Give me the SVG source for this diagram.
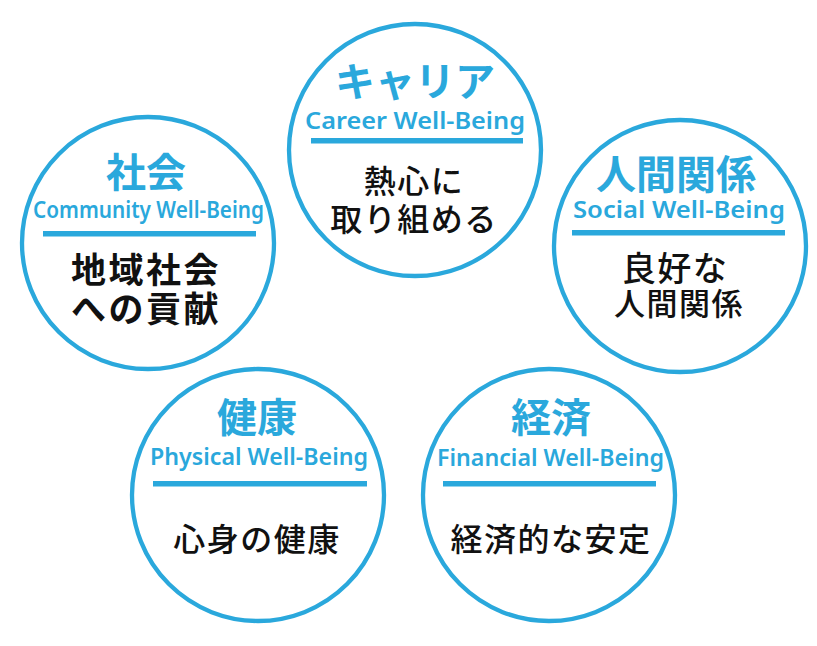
<svg xmlns="http://www.w3.org/2000/svg" width="817" height="646" viewBox="0 0 817 646">
<style>
.ring{fill:#fff;stroke:#2aa8dc;stroke-width:4.3}
.bar{fill:#2aa8dc}
.ttl{font-family:"Noto Sans CJK JP","Noto Sans CJK SC",sans-serif;font-weight:700;font-size:40px;fill:#2aa8dc;text-anchor:middle}
.en{font-family:"Noto Sans","Liberation Sans",sans-serif;font-weight:600;font-size:22.5px;fill:#2aa8dc;text-anchor:middle}
.body{font-family:"Noto Sans CJK JP","Noto Sans CJK SC",sans-serif;font-weight:500;font-size:32px;fill:#111;text-anchor:middle;letter-spacing:1.5px}
.bold{font-weight:700}
</style>
<rect width="817" height="646" fill="#fff"/>
<g id="connectors"/>
<g id="career">
<circle class="ring" cx="415" cy="150" r="126"/>
<text class="ttl" x="415" y="96">キャリア</text>
<text class="en" x="415" y="129" textLength="220" lengthAdjust="spacingAndGlyphs">Career Well-Being</text>
<rect class="bar" x="311" y="138" width="212" height="5.5"/>
<text class="body" x="414" y="193">熱心に</text>
<text class="body" x="414" y="231">取り組める</text>
</g>
<g id="community">
<circle class="ring" cx="148" cy="243" r="126"/>
<text class="ttl" x="146" y="187">社会</text>
<text class="en" x="148.5" y="218" textLength="231" lengthAdjust="spacingAndGlyphs">Community Well-Being</text>
<rect class="bar" x="43" y="231" width="213" height="5.5"/>
<text class="body bold" x="146" y="283" style="font-size:35px;letter-spacing:2.5px">地域社会</text>
<text class="body bold" x="146" y="322" style="font-size:35px;letter-spacing:2.5px">への貢献</text>
</g>
<g id="social">
<circle class="ring" cx="680" cy="246" r="126"/>
<text class="ttl" x="676" y="189">人間関係</text>
<text class="en" x="679" y="218" textLength="212" lengthAdjust="spacingAndGlyphs">Social Well-Being</text>
<rect class="bar" x="572" y="230" width="213" height="5.5"/>
<text class="body" x="675" y="281" style="font-size:34px">良好な</text>
<text class="body" x="679" y="315" style="font-size:31px">人間関係</text>
</g>
<g id="physical">
<circle class="ring" cx="258" cy="495" r="126"/>
<text class="ttl" x="257" y="432">健康</text>
<text class="en" x="259" y="465" textLength="218" lengthAdjust="spacingAndGlyphs">Physical Well-Being</text>
<rect class="bar" x="153" y="481" width="214" height="5.5"/>
<text class="body" x="257" y="551">心身の健康</text>
</g>
<g id="financial">
<circle class="ring" cx="549" cy="495" r="126"/>
<text class="ttl" x="551" y="432">経済</text>
<text class="en" x="550.5" y="466" textLength="227" lengthAdjust="spacingAndGlyphs">Financial Well-Being</text>
<rect class="bar" x="443" y="481" width="213" height="5.5"/>
<text class="body" x="551" y="551">経済的な安定</text>
</g>
</svg>
